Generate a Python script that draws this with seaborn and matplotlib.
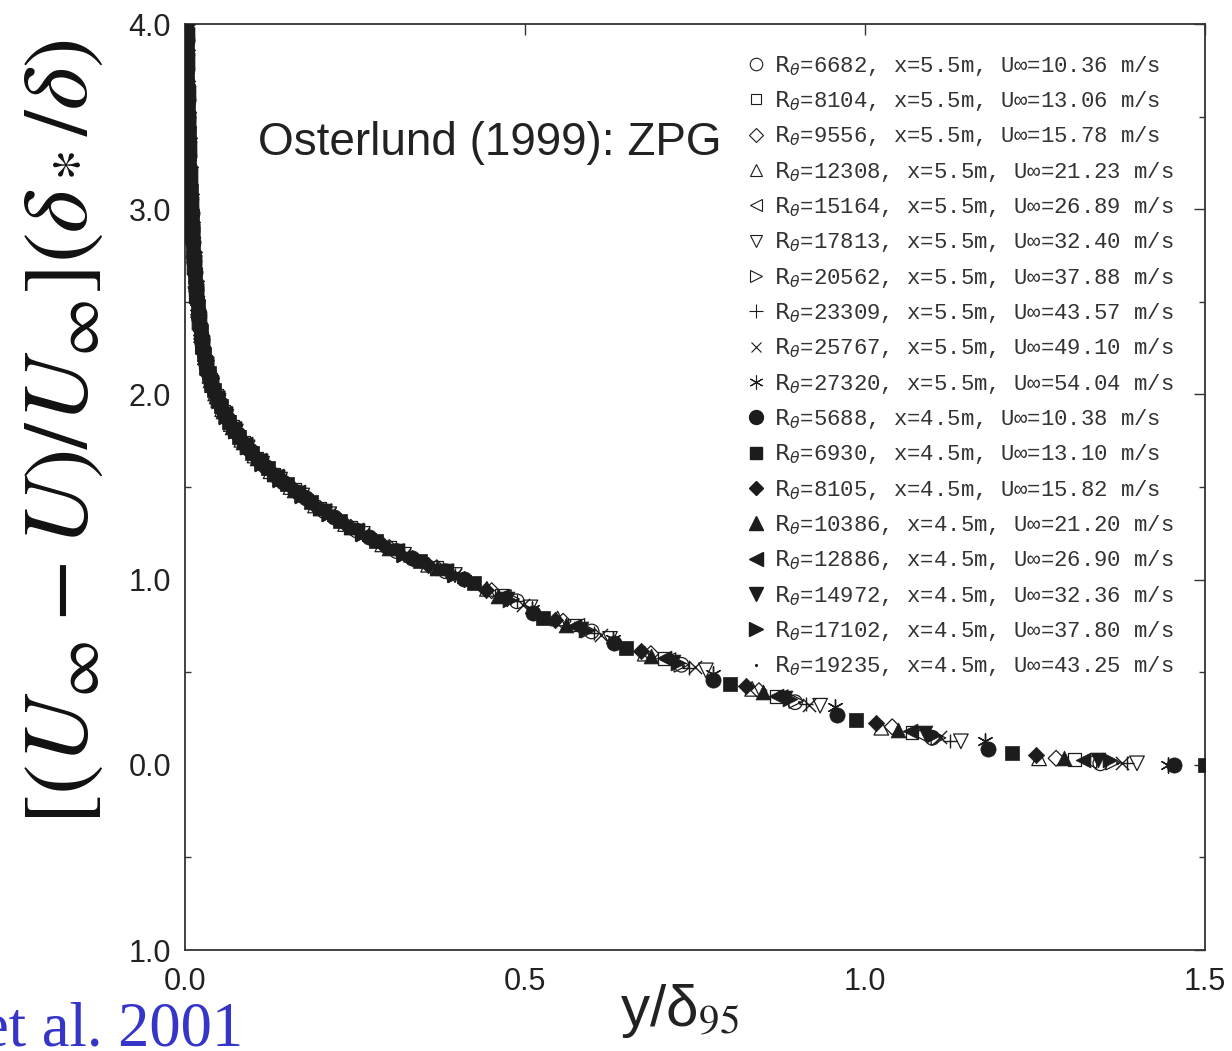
import matplotlib
matplotlib.use("Agg")
import matplotlib.pyplot as plt
from matplotlib.lines import Line2D
import pandas as pd
import seaborn as sns

# ---------------- data ----------------
re_theta = [6682, 8104, 9556, 12308, 15164, 17813, 20562, 23309, 25767, 27320,
            5688, 6930, 8105, 10386, 12886, 14972, 17102, 19235]
x_station = ["5.5"] * 10 + ["4.5"] * 8
u_inf = ["10.36", "13.06", "15.78", "21.23", "26.89", "32.40", "37.88", "43.57", "49.10", "54.04",
         "10.38", "13.10", "15.82", "21.20", "26.90", "32.36", "37.80", "43.25"]

# outer-region points of each profile (y/delta95, defect)
outer_x = [
    [1.346, 1.099, 0.897, 0.730, 0.598, 0.488],
    [1.308, 1.069, 0.869, 0.705, 0.572, 0.465],
    [1.281, 1.040, 0.844, 0.685, 0.556, 0.451],
    [1.256, 1.024, 0.834, 0.676, 0.548, 0.444],
    [1.330, 1.080, 0.876, 0.711, 0.577, 0.469],
    [1.400, 1.141, 0.934, 0.766, 0.625, 0.508],
    [1.365, 1.108, 0.899, 0.730, 0.593, 0.481],
    [1.386, 1.125, 0.913, 0.741, 0.602, 0.488],
    [1.378, 1.111, 0.917, 0.750, 0.612, 0.497],
    [1.446, 1.176, 0.956, 0.776, 0.630, 0.511],
    [1.455, 1.181, 0.959, 0.777, 0.631, 0.512],
    [1.500, 1.216, 0.987, 0.801, 0.648, 0.527],
    [1.251, 1.016, 0.825, 0.671, 0.544, 0.443],
    [1.293, 1.049, 0.850, 0.685, 0.560, 0.460],
    [1.320, 1.066, 0.869, 0.705, 0.572, 0.466],
    [1.343, 1.088, 0.882, 0.717, 0.582, 0.474],
    [1.360, 1.102, 0.890, 0.725, 0.589, 0.478],
    [1.370, 1.112, 0.903, 0.733, 0.595, 0.483],
]
outer_y = [
    [0.008, 0.146, 0.338, 0.540, 0.720, 0.883],
    [0.027, 0.173, 0.370, 0.575, 0.755, 0.915],
    [0.035, 0.205, 0.400, 0.600, 0.775, 0.940],
    [0.035, 0.200, 0.410, 0.600, 0.790, 0.950],
    [0.020, 0.165, 0.365, 0.565, 0.750, 0.905],
    [0.008, 0.127, 0.319, 0.510, 0.680, 0.850],
    [0.012, 0.145, 0.345, 0.540, 0.725, 0.895],
    [0.010, 0.130, 0.330, 0.525, 0.710, 0.885],
    [0.010, 0.150, 0.325, 0.530, 0.700, 0.865],
    [0.000, 0.127, 0.310, 0.490, 0.680, 0.840],
    [0.000, 0.086, 0.270, 0.460, 0.658, 0.820],
    [0.000, 0.065, 0.243, 0.438, 0.632, 0.795],
    [0.054, 0.227, 0.424, 0.613, 0.784, 0.946],
    [0.035, 0.190, 0.395, 0.585, 0.757, 0.910],
    [0.027, 0.184, 0.373, 0.575, 0.750, 0.910],
    [0.027, 0.173, 0.360, 0.555, 0.735, 0.895],
    [0.027, 0.162, 0.355, 0.548, 0.730, 0.890],
    [0.010, 0.145, 0.340, 0.535, 0.720, 0.890],
]

# inner-region points (dense band near the wall), read per measurement grid
inner_x_g1 = [0.3575, 0.2902, 0.2355, 0.1912, 0.1552, 0.1259, 0.1022, 0.0829, 0.0673, 0.0547,
              0.0444, 0.0360, 0.0292, 0.0237, 0.0193, 0.0156, 0.0127, 0.0103, 0.0084, 0.0068,
              0.0055, 0.0045, 0.0036, 0.0029, 0.0024, 0.0019]
inner_y_g1 = [1.08, 1.19, 1.30, 1.40, 1.50, 1.585, 1.67, 1.755, 1.84, 1.92,
              2.005, 2.10, 2.20, 2.32, 2.455, 2.61, 2.77, 2.93, 3.08, 3.23,
              3.385, 3.525, 3.69, 3.86, 4.00, 4.18]
inner_x_g2 = [0.3702, 0.3005, 0.2438, 0.1980, 0.1607, 0.1304, 0.1058, 0.0858, 0.0697, 0.0566,
              0.0460, 0.0373, 0.0302, 0.0245, 0.0200, 0.0162, 0.0131, 0.0107, 0.0087, 0.0070,
              0.0057, 0.0047, 0.0037, 0.0030, 0.0025, 0.0020]
inner_y_g2 = [1.064, 1.173, 1.282, 1.385, 1.485, 1.57, 1.657, 1.743, 1.825, 1.909,
              1.992, 2.08, 2.18, 2.30, 2.43, 2.58, 2.744, 2.90, 3.054, 3.21,
              3.36, 3.495, 3.67, 3.83, 3.97, 4.15]
inner_x_g3 = [0.3832, 0.3111, 0.2525, 0.2050, 0.1664, 0.1350, 0.1096, 0.0889, 0.0721, 0.0586,
              0.0476, 0.0386, 0.0313, 0.0254, 0.0207, 0.0167, 0.0136, 0.0110, 0.0090, 0.0073,
              0.0059, 0.0048, 0.0039, 0.0031, 0.0026, 0.0021]
inner_y_g3 = [1.045, 1.154, 1.265, 1.369, 1.47, 1.556, 1.642, 1.729, 1.813, 1.895,
              1.979, 2.064, 2.162, 2.279, 2.409, 2.559, 2.714, 2.88, 3.03, 3.18,
              3.333, 3.48, 3.63, 3.806, 3.94, 4.12]
inner_x_g4 = [0.3968, 0.3221, 0.2614, 0.2122, 0.1723, 0.1398, 0.1134, 0.0920, 0.0747, 0.0607,
              0.0493, 0.0400, 0.0324, 0.0263, 0.0214, 0.0173, 0.0141, 0.0114, 0.0093, 0.0076,
              0.0061, 0.0050, 0.0040, 0.0032, 0.0026, 0.0021]
inner_y_g4 = [1.025, 1.134, 1.247, 1.353, 1.454, 1.54, 1.626, 1.714, 1.80, 1.88,
              1.966, 2.05, 2.145, 2.258, 2.388, 2.53, 2.685, 2.852, 3.006, 3.15,
              3.31, 3.45, 3.61, 3.78, 3.94, 4.12]
inner_x_g5 = [0.4108, 0.3334, 0.2706, 0.2197, 0.1783, 0.1447, 0.1174, 0.0953, 0.0773, 0.0628,
              0.0510, 0.0414, 0.0336, 0.0272, 0.0222, 0.0179, 0.0146, 0.0118, 0.0096, 0.0078,
              0.0063, 0.0051, 0.0041, 0.0033, 0.0027, 0.0022]
inner_y_g5 = [1.004, 1.115, 1.229, 1.336, 1.438, 1.527, 1.612, 1.70, 1.785, 1.865,
              1.952, 2.036, 2.128, 2.238, 2.364, 2.505, 2.66, 2.824, 2.982, 3.13,
              3.287, 3.437, 3.59, 3.758, 3.914, 4.08]
inner_x_g6 = [0.4254, 0.3453, 0.2802, 0.2275, 0.1847, 0.1498, 0.1216, 0.0987, 0.0801, 0.0651,
              0.0528, 0.0428, 0.0347, 0.0282, 0.0230, 0.0186, 0.0151, 0.0123, 0.0100, 0.0081,
              0.0066, 0.0053, 0.0043, 0.0035, 0.0028, 0.0023]
inner_y_g6 = [0.98, 1.098, 1.21, 1.318, 1.42, 1.514, 1.60, 1.685, 1.77, 1.85,
              1.938, 2.022, 2.114, 2.217, 2.34, 2.48, 2.635, 2.79, 2.95, 3.10,
              3.254, 3.41, 3.555, 3.71, 3.886, 4.05]
inner_x = [inner_x_g1, inner_x_g2, inner_x_g3, inner_x_g4, inner_x_g5, inner_x_g6]
inner_y = [inner_y_g1, inner_y_g2, inner_y_g3, inner_y_g4, inner_y_g5, inner_y_g6]
series_grid = [2, 1, 1, 0, 2, 3, 3, 3, 3, 4, 4, 5, 0, 1, 2, 2, 3, 3]

y_tick_values = [-1.0, 0.0, 1.0, 2.0, 3.0, 4.0]
y_tick_labels = ["1.0", "0.0", "1.0", "2.0", "3.0", "4.0"]
x_tick_values = [0.0, 0.5, 1.0, 1.5]
x_tick_labels = ["0.0", "0.5", "1.0", "1.5"]

# ---------------- styles ----------------
markers = ['o', 's', 'D', '^', '<', 'v', '>', '+', 'x', (6, 2, 0),
           'o', 's', 'D', '^', '<', 'v', '>', '.']
kinds = ['open'] * 7 + ['line'] * 3 + ['filled'] * 8
sizes = [110, 85, 65, 110, 110, 110, 110, 115, 90, 120,
         120, 90, 70, 115, 115, 115, 115, 14]
leg_ms = [9, 7.5, 7.5, 9, 9, 9, 9, 10, 7.5, 10, 10, 8.5, 7.5, 9.5, 9.5, 9.5, 9.5, 2.5]
INK = '#1c1c1c'

sns.set_style("white")
plt.rcParams['font.family'] = ['Liberation Sans', 'DejaVu Sans']
plt.rcParams['mathtext.fontset'] = 'dejavusans'

fig = plt.figure(figsize=(12.32, 10.51), dpi=100)
ax = fig.add_axes([185 / 1232, 1 - 950 / 1051, 1020 / 1232, 926 / 1051])

for i in range(18):
    g = series_grid[i]
    df = pd.DataFrame({"y_d95": outer_x[i] + inner_x[g],
                       "defect": outer_y[i] + inner_y[g]})
    if kinds[i] == 'open':
        kw = dict(facecolors='none', edgecolor=INK, linewidth=0.9, color=INK)
    elif kinds[i] == 'line':
        kw = dict(color=INK, linewidth=1.0)
    else:
        kw = dict(color=INK, edgecolor=INK, linewidth=0.5)
    sns.scatterplot(data=df, x="y_d95", y="defect", marker=markers[i], s=sizes[i],
                    ax=ax, legend=False, zorder=3, **kw)

ax.set_xlim(0, 1.5)
ax.set_ylim(-1.0, 4.0)
ax.set_xticks(x_tick_values)
ax.set_xticklabels(x_tick_labels)
ax.set_yticks(y_tick_values)
ax.set_yticklabels(y_tick_labels)
ax.set_yticks([-0.5, 0.5, 1.5, 2.5, 3.5], minor=True)
ax.tick_params(axis='both', which='major', direction='in', length=8, width=1.0,
               color='#333333', labelsize=22, labelcolor='#222222',
               top=True, right=True)
ax.tick_params(axis='x', which='major', pad=12)
ax.tick_params(axis='y', which='major', pad=10)
ax.tick_params(axis='y', which='minor', direction='in', length=4, width=1.0,
               color='#333333', left=True, right=True)
for sp in ax.spines.values():
    sp.set_visible(True)
    sp.set_color('#333333')
    sp.set_linewidth(1.3)

ax.set_xlabel(r"y/δ$_{95}$", fontsize=42, color='#222222', math_fontfamily='stix')
ax.xaxis.set_label_coords(0.485, -0.035)
ax.set_ylabel(r"$\left[(U_\infty - U)/U_\infty\right](\delta_*/\delta)$", fontsize=66,
              color='#111111', math_fontfamily='stix', va='center', ha='center')
ax.yaxis.set_label_coords(-0.12, 0.559)

ax.text(0.0716, 0.8715, "Osterlund (1999): ZPG", transform=ax.transAxes,
        fontsize=33, color='#222222', ha='left', va='center')

# legend
handles, labels = [], []
for i in range(18):
    if kinds[i] == 'open':
        h = Line2D([], [], ls='none', marker=markers[i], markersize=leg_ms[i],
                   markerfacecolor='none', markeredgecolor=INK, markeredgewidth=0.8)
    elif kinds[i] == 'line':
        h = Line2D([], [], ls='none', marker=markers[i], markersize=leg_ms[i],
                   markeredgecolor=INK, markeredgewidth=0.8)
    else:
        h = Line2D([], [], ls='none', marker=markers[i], markersize=leg_ms[i],
                   markerfacecolor=INK, markeredgecolor=INK)
    handles.append(h)
    labels.append(r"$\mathrm{R}_{\theta}$=%d, x=%sm, U∞=%s m/s" % (re_theta[i], x_station[i], u_inf[i]))
leg = ax.legend(handles, labels, loc='upper left', bbox_to_anchor=(0.553, 0.968),
                frameon=False, handlelength=0.6, handletextpad=0.5, borderpad=0,
                borderaxespad=0, labelspacing=0.51,
                prop={'family': ['Liberation Mono', 'DejaVu Sans Mono'], 'size': 16})
for t in leg.get_texts():
    t.set_color('#333333')

fig.text(243 / 1232, 1 - 1046 / 1051, "et al. 2001", ha='right', va='baseline',
         fontsize=45, family='Liberation Serif', color='#3535c8')

fig.savefig("out.png", dpi=100)
